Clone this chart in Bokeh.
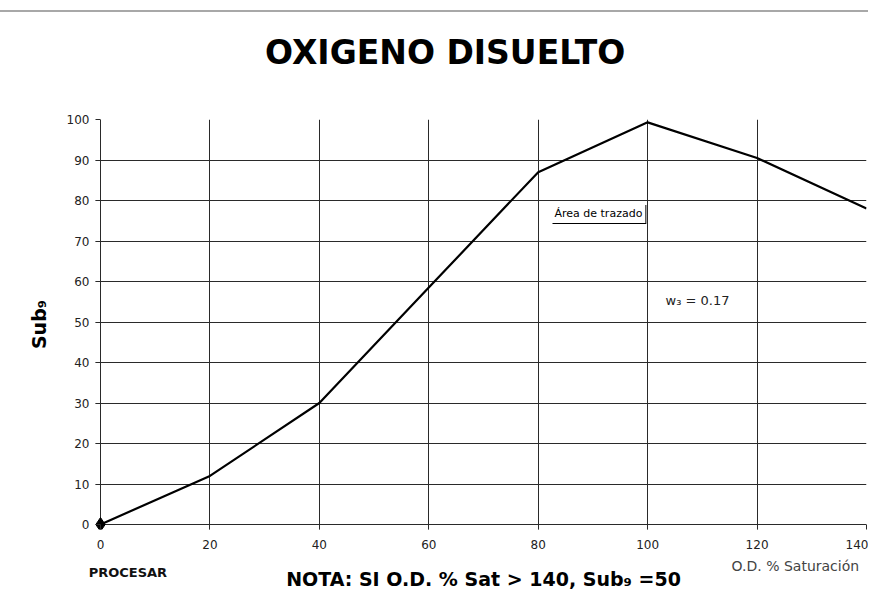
import math
from bokeh.plotting import figure
from bokeh.models import Range1d, Label, FixedTicker, ColumnDataSource, LinearAxis
from bokeh.embed import file_html
from bokeh.resources import INLINE

# ---- data ----
od_saturation = [0, 20, 40, 60, 80, 100, 120, 140]
sub9_values = [0, 12, 30, 58.5, 87, 99.3, 90.5, 78]
x_ticks = [0, 20, 40, 60, 80, 100, 120, 140]
y_ticks = [0, 10, 20, 30, 40, 50, 60, 70, 80, 90, 100]

title_text = "OXIGENO DISUELTO"
y_label_text = "Sub\u2089"
x_label_text = "O.D. % Saturación"
note_text = "NOTA: SI O.D. % Sat > 140, Sub\u2089 =50"
button_text = "PROCESAR"
tooltip_text = "Área de trazado"
weight_text = "w\u2083 = 0.17"

FONT = "DejaVu Sans"

# pixel scale of the plot area (for small paddings only)
PX_X = 766 / 140
PX_Y = 405 / 100

p = figure(width=868, height=590, output_backend="svg", toolbar_location=None,
           x_range=Range1d(-5 / PX_X, 140), y_range=Range1d(-5 / PX_Y, 100),
           min_border_left=95, min_border_right=2, min_border_top=107, min_border_bottom=73)
p.styles = {"margin-top": "10px", "border-top": "2px solid #a8a8a8"}
p.title.visible = False

p.outline_line_color = None

for ax in (p.xaxis[0], p.yaxis[0]):
    ax.axis_line_color = None
    ax.major_tick_line_color = "#2a2a2a"
    ax.major_tick_out = 0
    ax.major_tick_in = 5
    ax.minor_tick_line_color = None
    ax.major_label_text_font = FONT
    ax.major_label_text_font_size = "12px"
    ax.major_label_text_color = "#222222"
p.xaxis[0].ticker = FixedTicker(ticks=x_ticks)
p.yaxis[0].ticker = FixedTicker(ticks=y_ticks)
p.xaxis[0].major_label_standoff = 10
p.yaxis[0].major_label_standoff = 6

p.yaxis[0].axis_label = y_label_text
p.yaxis[0].axis_label_text_font = FONT
p.yaxis[0].axis_label_text_font_size = "19px"
p.yaxis[0].axis_label_text_font_style = "bold"
p.yaxis[0].axis_label_text_color = "black"
p.yaxis[0].axis_label_standoff = 14

p.xgrid[0].ticker = FixedTicker(ticks=x_ticks)
p.ygrid[0].ticker = FixedTicker(ticks=y_ticks)
for g in (p.xgrid[0], p.ygrid[0]):
    g.grid_line_color = "#2a2a2a"
    g.grid_line_width = 1
    g.grid_line_alpha = 1

src = ColumnDataSource(dict(x=od_saturation, y=sub9_values))
p.line("x", "y", source=src, line_color="black", line_width=2.2)
p.scatter(x=[od_saturation[0]], y=[sub9_values[0]], marker="diamond", size=14,
          fill_color="black", line_color="black")

# texts outside the plot area, placed as label-only axes
def text_axis(pos, text, size, bold, color, standoff, side="below"):
    ax = LinearAxis(ticker=FixedTicker(ticks=[pos]), major_label_overrides={pos: text})
    ax.axis_line_color = None
    ax.major_tick_line_color = None
    ax.minor_tick_line_color = None
    ax.major_tick_out = 0
    ax.major_tick_in = 0
    ax.major_label_standoff = standoff
    ax.major_label_text_font = FONT
    ax.major_label_text_font_size = size
    ax.major_label_text_font_style = "bold" if bold else "normal"
    ax.major_label_text_color = color
    p.add_layout(ax, side)

text_axis(63, title_text, "33px", True, "black", 48, side="above")
text_axis(127, x_label_text, "14px", False, "#444444", 6)
text_axis(5, button_text, "13px", True, "#111111", -12)
text_axis(70, note_text, "19px", True, "black", -15)

def add_label(text, x, y, size, color="black", **kw):
    lab = Label(x=x, y=y, text=text, text_font=FONT, text_font_size=size,
                text_color=color, text_align="left", text_baseline="middle", **kw)
    p.add_layout(lab)

def px_x(px):
    return (px - 100) / PX_X

def px_y(py):
    return (524 - py) / PX_Y

add_label(weight_text, px_x(665), px_y(300), "13px", color="#222222")
add_label(tooltip_text, px_x(551), px_y(213), "11px",
          background_fill_color="black", padding=3, x_offset=1, y_offset=-1)
add_label(tooltip_text, px_x(551), px_y(213), "11px",
          background_fill_color="white", padding=3)

with open("out.html", "w") as f:
    f.write(file_html(p, INLINE))
